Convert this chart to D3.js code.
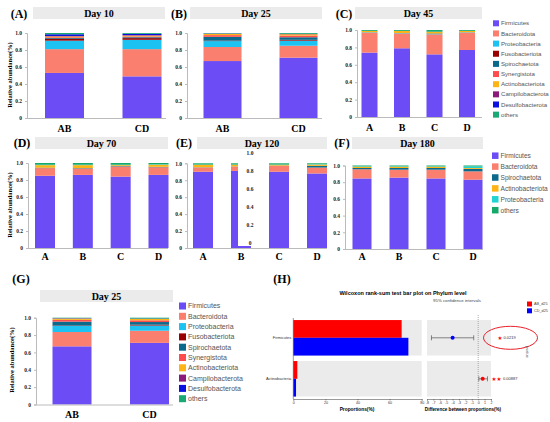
<!DOCTYPE html>
<html>
<head>
<meta charset="utf-8">
<script src="https://cdn.jsdelivr.net/npm/d3@7"></script>
<style>body{margin:0;background:#fff}</style>
</head>
<body>
<div id="chart"></div>
<script>
// phyla + colours
const phyla10 = ["Firmicutes","Bacteroidota","Proteobacteria","Fusobacteriota","Spirochaetota","Synergistota","Actinobacteriota","Campilobacterota","Desulfobacterota","others"];
const colors10 = ["#6c4df5","#fa7f6f","#1cc2f2","#990000","#0b6a8c","#ff4d4d","#ffb416","#8b1a7a","#0a10e0","#19a974"];
const phyla6 = ["Firmicutes","Bacteroidota","Spirochaetota","Actinobacteriota","Proteobacteria","others"];
const colors6 = ["#6c4df5","#fa7f6f","#0b6a8c","#ffb416","#22d3d3","#15a86b"];

const groups2 = ["AB","CD"];
const groups4 = ["A","B","C","D"];

// relative abundance, one row per group, columns follow the phyla list
const day10 = [
  [0.53,0.28,0.10,0.02,0.01,0.01,0.01,0.005,0.02,0.015],
  [0.49,0.32,0.11,0.02,0.01,0.01,0.01,0.005,0.015,0.01]
];
const day25 = [
  [0.67,0.165,0.07,0.005,0.045,0.02,0.015,0.002,0.003,0.005],
  [0.71,0.14,0.06,0.01,0.03,0.02,0.015,0.003,0.002,0.01]
];
const day45 = [
  [0.74,0.23,0.003,0,0.002,0,0.015,0,0,0.01],
  [0.79,0.17,0.003,0,0.002,0,0.025,0,0,0.01],
  [0.72,0.23,0.003,0,0.007,0,0.02,0,0,0.02],
  [0.77,0.20,0.003,0,0.002,0,0.015,0,0,0.01]
];
const day70 = [
  [0.85,0.09,0.005,0.03,0.005,0.02],
  [0.86,0.075,0.005,0.035,0.005,0.02],
  [0.84,0.12,0.005,0.01,0.005,0.02],
  [0.86,0.09,0.005,0.025,0.005,0.015]
];
const day120 = [
  [0.90,0.05,0.003,0.03,0.002,0.015],
  [0.91,0.05,0.003,0.02,0.002,0.015],
  [0.90,0.07,0.003,0.01,0.002,0.015],
  [0.88,0.07,0.02,0.015,0.005,0.01]
];
const day180 = [
  [0.845,0.11,0.015,0.015,0.005,0.01],
  [0.855,0.095,0.02,0.015,0.005,0.01],
  [0.845,0.105,0.02,0.015,0.005,0.01],
  [0.83,0.10,0.03,0.01,0.02,0.01]
];
const yTicks = [0,0.2,0.4,0.6,0.8,1.0];

// wilcoxon panel
const hTaxa = ["Firmicutes","Actinobacteria"];
const hAB = [67.5, 2.5];
const hCD = [71.7, 1.7];
const hDiff = [-4.0, 0.7];
const hLow = [-7.3, 0.1];
const hHigh = [-0.7, 1.45];
const hP = ["0.0219","0.00887"];
const hStars = ["\u2605","\u2605\u2605"];
const propTicks = [0,20,40,60,80];
const diffTicks = [-8,-7,-6,-5,-4,-3,-2,-1,0,1,2];

const serif = "'Liberation Serif','DejaVu Serif',serif";
const sans = "'Liberation Sans',Arial,sans-serif";

let svg = d3.select("#chart").append("svg")
  .attr("width",550).attr("height",422)
  .style("background","#fff");

function stackPanel(p){
  let g = svg.append("g");
  // panel tag + title bar
  g.append("text").attr("x",p.tagX).attr("y",p.tagY+4).attr("text-anchor","middle")
    .style("font-family",serif).style("font-weight","bold").style("font-size","12px").text(p.tag);
  g.append("rect").attr("x",p.tb[0]).attr("y",p.tb[2]).attr("width",p.tb[1]-p.tb[0]).attr("height",p.tb[3]-p.tb[2])
    .attr("fill","#ebebeb");
  g.append("text").attr("x",(p.tb[0]+p.tb[1])/2).attr("y",(p.tb[2]+p.tb[3])/2+3.5).attr("text-anchor","middle")
    .style("font-family",serif).style("font-weight","bold").style("font-size","10px").text(p.title);

  let y = d3.scaleLinear().domain([0,1]).range([p.y0,p.y1]);
  let x = d3.scalePoint().domain(p.groups).range(p.cx);

  let rows = p.groups.map((gr,i)=>{
    let o = {group:gr};
    p.keys.forEach((k,j)=>{ o[k] = p.vals[i][j]; });
    return o;
  });
  let series = d3.stack().keys(p.keys)(rows);

  g.selectAll("g.layer").data(series).enter().append("g")
    .attr("fill",(d,i)=>p.cols[i])
    .selectAll("rect").data(d=>d).enter().append("rect")
    .attr("x",d=>x(d.data.group)-p.bw/2)
    .attr("width",p.bw)
    .attr("y",d=>y(d[1]))
    .attr("height",d=>Math.max(0,y(d[0])-y(d[1])));

  let ax = g.append("g").attr("transform",`translate(${p.axisX},0)`)
    .call(d3.axisLeft(y).tickValues(yTicks).tickSize(2).tickFormat(d=>d===0?"0":d.toFixed(1)));
  ax.select(".domain").attr("stroke","#bbb");
  ax.selectAll(".tick line").attr("stroke","#bbb");
  ax.selectAll("text").style("font-family",serif).style("font-weight","bold").style("font-size","5.5px").attr("fill","#222");

  g.append("line").attr("x1",p.axisX).attr("x2",p.xEnd).attr("y1",p.y0+0.5).attr("y2",p.y0+0.5)
    .attr("stroke","#bbb").attr("stroke-width",1);

  g.selectAll("text.xl").data(p.groups).enter().append("text")
    .attr("x",d=>x(d)).attr("y",p.labelY).attr("text-anchor","middle")
    .style("font-family",serif).style("font-weight","bold").style("font-size","10px").text(d=>d);

  if(p.yTitle){
    g.append("text").attr("transform",`translate(${p.yTitle[0]},${p.yTitle[1]}) rotate(-90)`)
      .attr("text-anchor","middle").attr("dy","0.35em")
      .style("font-family",serif).style("font-weight","bold").style("font-size","6.5px").text("Relative abundance(%)");
  }
  return {g,y,x};
}

function legend(keys, cols, x0, yStart, step, size, fs){
  let lg = svg.append("g");
  let it = lg.selectAll("g").data(keys).enter().append("g")
    .attr("transform",(d,i)=>`translate(${x0},${yStart+i*step})`);
  it.append("rect").attr("x",0).attr("y",-size/2).attr("width",size).attr("height",size)
    .attr("fill",(d,i)=>cols[i]);
  it.append("text").attr("x",size+2).attr("y",0).attr("dy","0.35em")
    .style("font-family",sans).style("font-size",fs+"px").attr("fill","#555").text(d=>d);
}

stackPanel({tag:"(A)",tagX:19,tagY:14,title:"Day 10",tb:[33,165,7,19],axisX:27,xEnd:166,y0:118,y1:33,
  cx:[64.5,142],bw:39,groups:groups2,vals:day10,keys:phyla10,cols:colors10,yTitle:[10,75],labelY:132});
stackPanel({tag:"(B)",tagX:179,tagY:14,title:"Day 25",tb:[190,322,7,19],axisX:187,xEnd:322,y0:118,y1:33,
  cx:[222.5,298.5],bw:38,groups:groups2,vals:day25,keys:phyla10,cols:colors10,labelY:132});
stackPanel({tag:"(C)",tagX:344,tagY:14,title:"Day 45",tb:[355,482,7,19],axisX:357,xEnd:482,y0:117,y1:30,
  cx:[369.5,467],bw:16,groups:groups4,vals:day45,keys:phyla10,cols:colors10,labelY:131});
legend(phyla10, colors10, 493, 23.3, 10.15, 6, 6.1);

stackPanel({tag:"(D)",tagX:22,tagY:143,title:"Day 70",tb:[35,168,137,149],axisX:28,xEnd:168,y0:248,y1:163,
  cx:[45,158.5],bw:20,groups:groups4,vals:day70,keys:phyla6,cols:colors6,yTitle:[10,205],labelY:260});
let e = stackPanel({tag:"(E)",tagX:184,tagY:143,title:"Day 120",tb:[197,327,137,149],axisX:187,xEnd:327,y0:248,y1:163.3,
  cx:[203,317],bw:20,groups:groups4,vals:day120,keys:phyla6,cols:colors6,labelY:260});
// stray second axis pasted over bar B in the original figure
e.g.append("rect").attr("x",238).attr("y",150).attr("width",24).attr("height",96).attr("fill","#fff");
let ey2 = d3.scaleLinear().domain([0,1]).range([243,152.7]);
e.g.selectAll("text.y2").data(yTicks).enter().append("text")
  .attr("x",250).attr("y",d=>ey2(d)).attr("dy","0.35em").attr("text-anchor","middle")
  .style("font-family",serif).style("font-weight","bold").style("font-size","5.5px").attr("fill","#222")
  .text(d=>d===0?"0":d.toFixed(1));

stackPanel({tag:"(F)",tagX:342,tagY:143,title:"Day 180",tb:[352,483,137,149],axisX:345,xEnd:483,y0:249,y1:165.5,
  cx:[362,473],bw:19,groups:groups4,vals:day180,keys:phyla6,cols:colors6,labelY:260});
legend(phyla6, colors6, 492, 155.7, 10.9, 6.5, 6.6);

stackPanel({tag:"(G)",tagX:21,tagY:279,title:"Day 25",tb:[40,173,290,302],axisX:36,xEnd:173,y0:404.5,y1:317.7,
  cx:[72,149.5],bw:39,groups:groups2,vals:day25,keys:phyla10,cols:colors10,yTitle:[12,360],labelY:418});
legend(phyla10, colors10, 179, 306, 10.3, 7, 7);

// ---- (H) wilcoxon rank-sum test ----
let h = svg.append("g");
h.append("text").attr("x",282).attr("y",283).attr("text-anchor","middle")
  .style("font-family",serif).style("font-weight","bold").style("font-size","12px").text("(H)");
h.append("text").attr("x",403).attr("y",295).attr("text-anchor","middle")
  .style("font-family",sans).style("font-weight","bold").style("font-size","5.5px").text("Wilcoxon rank-sum test bar plot on Phylum level");
h.append("text").attr("x",457).attr("y",302).attr("text-anchor","middle")
  .style("font-family",sans).style("font-size","4.3px").attr("fill","#444").text("95% confidence intervals");

let px = d3.scaleLinear().domain([0,80]).range([293.3,421.7]);
let dx = d3.scaleLinear().domain([-8,2]).range([427,491]);
let ry = d3.scaleBand().domain(hTaxa).range([318,398.6]).paddingInner(0.134).paddingOuter(0.05);
let half = ry.bandwidth()/2;

// grey backgrounds
h.selectAll("rect.bgl").data(hTaxa).enter().append("rect")
  .attr("x",px(0)).attr("width",px(80)-px(0)).attr("y",d=>ry(d)).attr("height",ry.bandwidth()).attr("fill","#ebebeb");
h.selectAll("rect.bgr").data(hTaxa).enter().append("rect")
  .attr("x",dx(-8)).attr("width",dx(2)-dx(-8)).attr("y",d=>ry(d)).attr("height",ry.bandwidth()).attr("fill","#ebebeb");

h.selectAll("rect.ab").data(hTaxa).enter().append("rect")
  .attr("x",px(0)).attr("y",d=>ry(d)).attr("height",half).attr("width",(d,i)=>px(hAB[i])-px(0)).attr("fill","#ff0000");
h.selectAll("rect.cd").data(hTaxa).enter().append("rect")
  .attr("x",px(0)).attr("y",d=>ry(d)+half).attr("height",half).attr("width",(d,i)=>px(hCD[i])-px(0)).attr("fill","#0000ff");

h.selectAll("text.tax").data(hTaxa).enter().append("text")
  .attr("x",px(0)-2).attr("y",d=>ry(d)+half).attr("dy","0.35em").attr("text-anchor","end")
  .style("font-family",sans).style("font-size","4px").attr("fill","#333").text(d=>d);

let pa = h.append("g").attr("transform","translate(0,399)")
  .call(d3.axisBottom(px).tickValues(propTicks).tickSize(1.5).tickPadding(1).tickFormat(d=>String(d)));
let da = h.append("g").attr("transform","translate(0,399)")
  .call(d3.axisBottom(dx).tickValues(diffTicks).tickSize(1.5).tickPadding(1).tickFormat(d=>String(d)));
[pa,da].forEach(a=>{
  a.select(".domain").attr("stroke","#555").attr("stroke-width",0.6);
  a.selectAll(".tick line").attr("stroke","#555").attr("stroke-width",0.6);
  a.selectAll("text").style("font-family",sans).style("font-size","3.6px").attr("fill","#333");
});
h.append("line").attr("x1",px(0)).attr("x2",px(0)).attr("y1",318).attr("y2",399).attr("stroke","#555").attr("stroke-width",0.6);

h.append("text").attr("x",357).attr("y",410.5).attr("text-anchor","middle")
  .style("font-family",sans).style("font-weight","bold").style("font-size","4.8px").text("Proportions(%)");
h.append("text").attr("x",463).attr("y",410.5).attr("text-anchor","middle")
  .style("font-family",sans).style("font-weight","bold").style("font-size","4.6px").text("Difference between proportions(%)");

// zero line
h.append("line").attr("x1",dx(0)).attr("x2",dx(0)).attr("y1",315).attr("y2",399)
  .attr("stroke","#777").attr("stroke-width",0.6).attr("stroke-dasharray","1,1");

// CI
let ci = h.selectAll("g.ci").data(hTaxa).enter().append("g");
ci.append("line").attr("x1",(d,i)=>dx(hLow[i])).attr("x2",(d,i)=>dx(hHigh[i]))
  .attr("y1",d=>ry(d)+half).attr("y2",d=>ry(d)+half).attr("stroke","#555").attr("stroke-width",0.7);
ci.append("line").attr("x1",(d,i)=>dx(hLow[i])).attr("x2",(d,i)=>dx(hLow[i]))
  .attr("y1",d=>ry(d)+half-2.5).attr("y2",d=>ry(d)+half+2.5).attr("stroke","#555").attr("stroke-width",0.7);
ci.append("line").attr("x1",(d,i)=>dx(hHigh[i])).attr("x2",(d,i)=>dx(hHigh[i]))
  .attr("y1",d=>ry(d)+half-2.5).attr("y2",d=>ry(d)+half+2.5).attr("stroke","#555").attr("stroke-width",0.7);
ci.append("circle").attr("cx",(d,i)=>dx(hDiff[i])).attr("cy",d=>ry(d)+half).attr("r",2)
  .attr("fill",(d,i)=>hDiff[i]<0?"#0000ff":"#ff0000");

// significance
ci.append("text").attr("x",(d,i)=>i===0?500:496.5).attr("y",d=>ry(d)+half).attr("dy","0.35em").attr("text-anchor","middle")
  .style("font-family","'DejaVu Sans',sans-serif").style("font-size","5.5px").attr("fill","#ff0000").text((d,i)=>hStars[i]);
ci.append("text").attr("x",(d,i)=>i===0?503.5:503).attr("y",d=>ry(d)+half).attr("dy","0.35em")
  .style("font-family",sans).style("font-size","4px").attr("fill","#333").text((d,i)=>hP[i]);
h.append("ellipse").attr("cx",510.5).attr("cy",ry(hTaxa[0])+half).attr("rx",27).attr("ry",11.5)
  .attr("fill","none").attr("stroke","#e8202a").attr("stroke-width",1);

h.append("text").attr("transform","translate(526,352) rotate(90)").attr("text-anchor","middle")
  .style("font-family",sans).style("font-size","4px").attr("fill","#555").text("pvalue");

// legend
let hl = h.selectAll("g.hl").data(["AB_d25","CD_d25"]).enter().append("g")
  .attr("transform",(d,i)=>`translate(527,${304+i*6.8})`);
hl.append("rect").attr("x",0).attr("y",-2.5).attr("width",5).attr("height",5).attr("fill",(d,i)=>i?"#0000ff":"#ff0000");
hl.append("text").attr("x",7).attr("y",0).attr("dy","0.35em").style("font-family",sans).style("font-size","3.8px").attr("fill","#444").text(d=>d);
</script>
</body>
</html>
